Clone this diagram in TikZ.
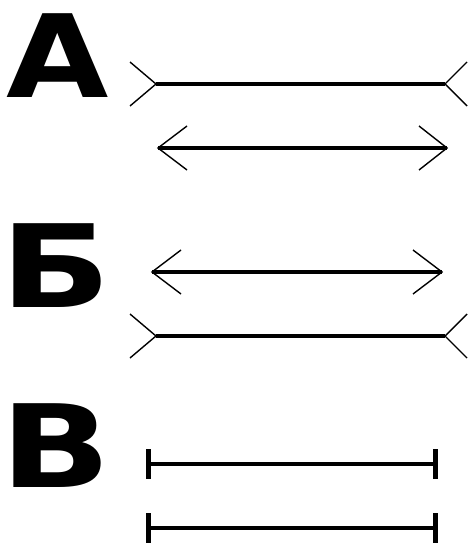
\documentclass[tikz,border=0pt]{standalone}
\usepackage{fontspec}
\newfontfamily\letterfont{DejaVu Sans}[BoldFont={DejaVu Sans Bold}]
\begin{document}
\begin{tikzpicture}[x=1bp,y=-1bp,
  letter/.style={anchor=base west,inner sep=0pt,xscale=1.15,font=\letterfont\bfseries\fontsize{115bp}{115bp}\selectfont},
  wideletter/.style={letter,xscale=1.1},
  mainline/.style={line width=3.3bp},
  fin/.style={line width=1.4bp},
  tick/.style={line width=5bp}]
\useasboundingbox (0,0) rectangle (468,543);
% letters
\node[letter] (la) at (6,98) {А};
\node[wideletter] (lb) at (0,307) {Б};
\node[wideletter] (lv) at (0,487) {В};
% A, line 1 (outward fins)
\coordinate (a1l) at (156,84); \coordinate (a1r) at (445,84);
\draw[mainline] (a1l) -- (a1r);
\draw[fin] (130,62) -- (a1l) -- (130,106);
\draw[fin] (467,62) -- (a1r) -- (467,106);
% A, line 2 (arrow fins)
\coordinate (a2l) at (158,148); \coordinate (a2r) at (447,148);
\draw[mainline] (a2l) -- (a2r);
\draw[fin] (187,126) -- (a2l) -- (187,170);
\draw[fin] (419,126) -- (a2r) -- (419,170);
% B, line 1 (arrow fins)
\coordinate (b1l) at (152,272); \coordinate (b1r) at (442,272);
\draw[mainline] (b1l) -- (b1r);
\draw[fin] (181,250) -- (b1l) -- (181,294);
\draw[fin] (413,250) -- (b1r) -- (413,294);
% B, line 2 (outward fins)
\coordinate (b2l) at (156,336); \coordinate (b2r) at (445,336);
\draw[mainline] (b2l) -- (b2r);
\draw[fin] (130,314) -- (b2l) -- (130,358);
\draw[fin] (467,314) -- (b2r) -- (467,358);
% V, line 1
\coordinate (v1l) at (148.5,464); \coordinate (v1r) at (435.5,464);
\draw[mainline] (v1l) -- (v1r);
\draw[tick] (148.5,449) -- (148.5,479);
\draw[tick] (435.5,449) -- (435.5,479);
% V, line 2
\coordinate (v2l) at (148.5,528); \coordinate (v2r) at (435.5,528);
\draw[mainline] (v2l) -- (v2r);
\draw[tick] (148.5,513) -- (148.5,543);
\draw[tick] (435.5,513) -- (435.5,543);
\end{tikzpicture}
\end{document}
